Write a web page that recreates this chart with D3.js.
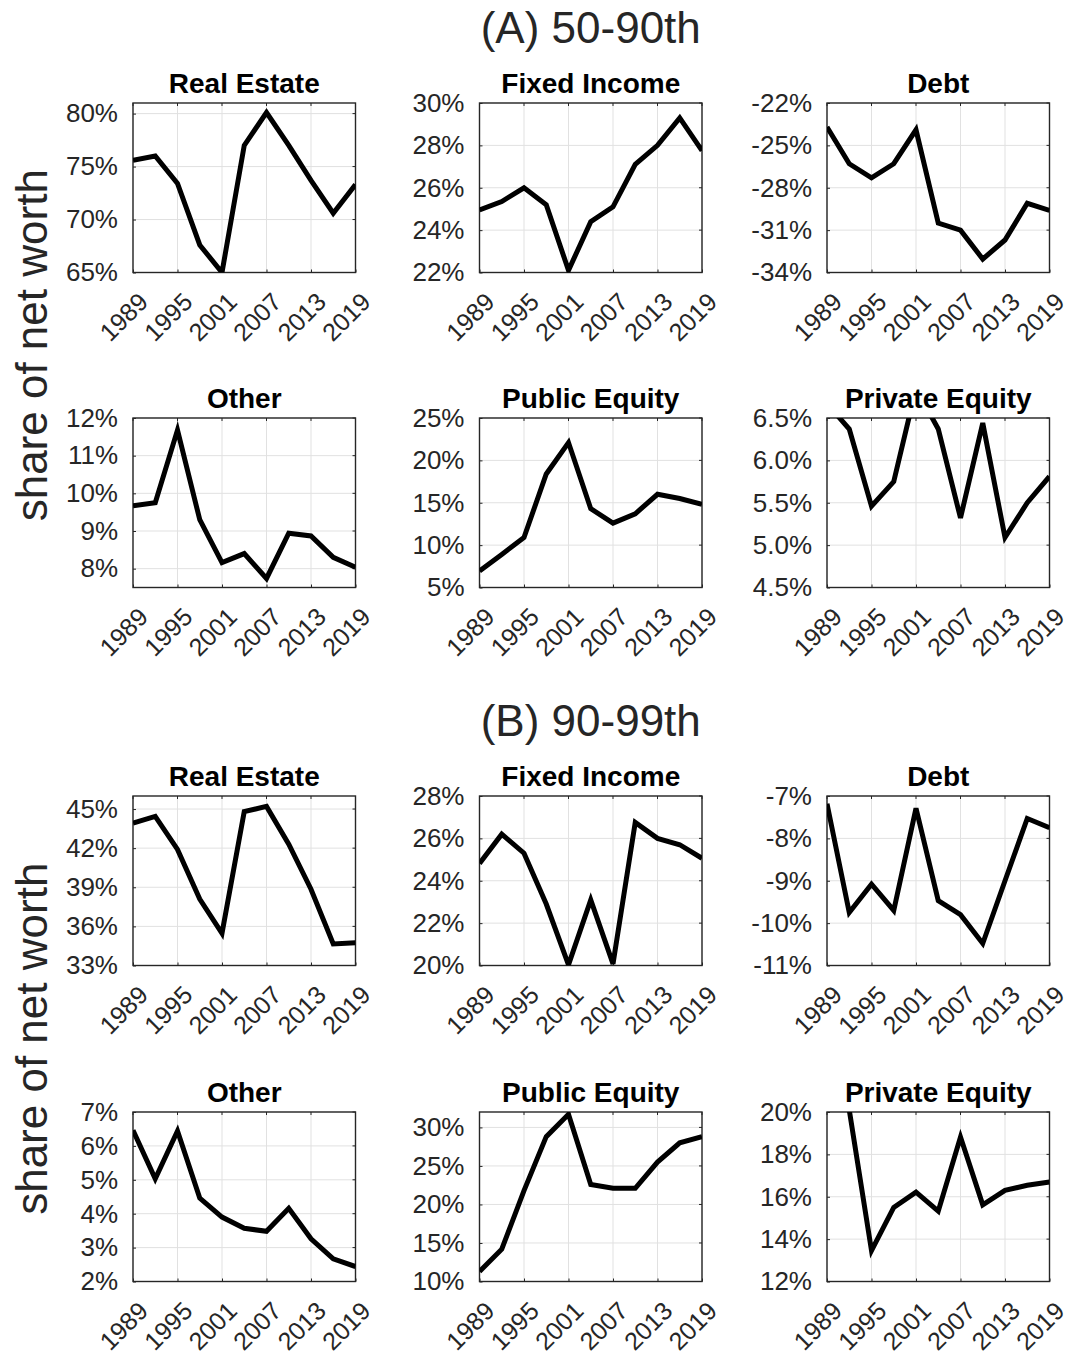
<!DOCTYPE html>
<html>
<head>
<meta charset="utf-8">
<script src="https://cdn.jsdelivr.net/npm/d3@7"></script>
<style>
  body { margin: 0; background: #fff; }
  text { font-family: Arial, "Liberation Sans", Helvetica, sans-serif; }
</style>
</head>
<body>
<div class="figure"></div>
<script>
(function() {

    /* survey years and tick years */
    var years = [1989, 1992, 1995, 1998, 2001, 2004, 2007, 2010, 2013, 2016, 2019];
    var xTicks = [1989, 1995, 2001, 2007, 2013, 2019];

    var groupTitles = ["(A) 50-90th", "(B) 90-99th"];
    var assetNames = ["Real Estate", "Fixed Income", "Debt", "Other", "Public Equity", "Private Equity"];
    var yLabel = "share of net worth";

    /* (A) 50-90th percentile, share of net worth in % */
    var realEstateA = [75.6, 76.0, 73.4, 67.6, 65.0, 77.0, 80.1, 77.0, 73.7, 70.6, 73.3];
    var fixedIncomeA = [24.95, 25.35, 26.0, 25.2, 22.1, 24.4, 25.1, 27.1, 28.0, 29.3, 27.75];
    var debtA = [-23.7, -26.3, -27.3, -26.3, -23.9, -30.5, -31.0, -33.05, -31.7, -29.1, -29.6];
    var otherA = [9.67, 9.75, 11.68, 9.3, 8.16, 8.4, 7.74, 8.94, 8.87, 8.3, 8.04];
    var publicEquityA = [6.96, 8.9, 10.9, 18.4, 22.1, 14.3, 12.6, 13.7, 16.0, 15.5, 14.8];
    var privateEquityA = [6.67, 6.37, 5.46, 5.75, 6.85, 6.37, 5.32, 6.44, 5.09, 5.5, 5.81];

    /* (B) 90-99th percentile */
    var realEstateB = [43.93, 44.44, 41.9, 38.1, 35.47, 44.8, 45.2, 42.3, 38.85, 34.65, 34.75];
    var fixedIncomeB = [24.82, 26.2, 25.3, 22.9, 20.03, 23.1, 20.08, 26.75, 26.0, 25.7, 25.06];
    var debtB = [-7.18, -9.75, -9.08, -9.7, -7.29, -9.47, -9.8, -10.48, -9.0, -7.53, -7.75];
    var otherB = [6.46, 5.03, 6.44, 4.46, 3.9, 3.57, 3.48, 4.16, 3.26, 2.67, 2.44];
    var publicEquityB = [11.3, 14.2, 21.8, 28.8, 31.7, 22.6, 22.1, 22.1, 25.5, 28.0, 28.8];
    var privateEquityB = [23.0, 20.1, 13.46, 15.5, 16.22, 15.32, 18.82, 15.62, 16.3, 16.54, 16.7];

    /* axis limits and ticks */
    var yRangeA = [[65, 81], [22, 30], [-34, -22], [7.5, 12], [5, 25], [4.5, 6.5]];
    var yTicksA = [[65, 70, 75, 80], [22, 24, 26, 28, 30], [-34, -31, -28, -25, -22],
        [8, 9, 10, 11, 12], [5, 10, 15, 20, 25], [4.5, 5, 5.5, 6, 6.5]];
    var yRangeB = [[33, 46], [20, 28], [-11, -7], [2, 7], [10, 32], [12, 20]];
    var yTicksB = [[33, 36, 39, 42, 45], [20, 22, 24, 26, 28], [-11, -10, -9, -8, -7],
        [2, 3, 4, 5, 6, 7], [10, 15, 20, 25, 30], [12, 14, 16, 18, 20]];

    var groups = [
        { title: groupTitles[0], series: [realEstateA, fixedIncomeA, debtA, otherA, publicEquityA, privateEquityA], ranges: yRangeA, ticks: yTicksA },
        { title: groupTitles[1], series: [realEstateB, fixedIncomeB, debtB, otherB, publicEquityB, privateEquityB], ranges: yRangeB, ticks: yTicksB }
    ];

    var W = 1076, H = 1358;
    var colLeft = [133, 479.5, 827];
    var rowTop = [103, 418, 796, 1112];
    var panelW = 222.5, panelH = 169.5;
    var axisColor = "#262626";

    // plain hyphen for negatives, like the original figure
    var locale = d3.formatLocale({ decimal: ".", thousands: ",", grouping: [3], currency: ["$", ""], minus: "-" });

    var svg = d3.select(".figure").append("svg")
        .attr("width", W)
        .attr("height", H);

    var x = d3.scaleLinear()
        .domain([years[0], years[years.length - 1]])
        .range([0, panelW]);

    groups.forEach(function(grp, gi) {
        var top0 = rowTop[gi * 2];
        var bottom1 = rowTop[gi * 2 + 1] + panelH;

        // group title over the middle column
        svg.append("text")
            .attr("x", colLeft[1] + panelW / 2)
            .attr("y", top0 - 60)
            .attr("text-anchor", "middle")
            .style("font-size", "44px")
            .attr("fill", axisColor)
            .text(grp.title);

        // shared y label
        svg.append("text")
            .attr("transform", "translate(47," + ((top0 + bottom1) / 2) + ") rotate(-90)")
            .attr("text-anchor", "middle")
            .style("font-size", "44px")
            .attr("fill", axisColor)
            .text(yLabel);

        grp.series.forEach(function(vals, i) {
            var col = i % 3, row = Math.floor(i / 3);
            var left = colLeft[col], top = rowTop[gi * 2 + row];
            var ticks = grp.ticks[i];

            var y = d3.scaleLinear()
                .domain(grp.ranges[i])
                .range([panelH, 0]);

            var fmt = ticks.some(function(t) { return t % 1 !== 0; }) ? locale.format(".1f") : locale.format("d");

            var g = svg.append("g")
                .attr("transform", "translate(" + left + "," + top + ")");

            var clipId = "clip-" + gi + "-" + i;
            g.append("clipPath").attr("id", clipId)
                .append("rect")
                .attr("width", panelW)
                .attr("height", panelH);

            // grid
            g.append("g").attr("class", "grid")
                .selectAll("line.gx")
                .data(xTicks)
                .enter().append("line")
                .attr("x1", function(d) { return x(d); })
                .attr("x2", function(d) { return x(d); })
                .attr("y1", 0)
                .attr("y2", panelH)
                .attr("stroke", "#e1e1e1")
                .attr("stroke-width", 1);

            g.select(".grid")
                .selectAll("line.gy")
                .data(ticks)
                .enter().append("line")
                .attr("x1", 0)
                .attr("x2", panelW)
                .attr("y1", function(d) { return y(d); })
                .attr("y2", function(d) { return y(d); })
                .attr("stroke", "#e1e1e1")
                .attr("stroke-width", 1);

            // axes with inward ticks
            var yAxis = d3.axisLeft(y)
                .tickValues(ticks)
                .tickSizeInner(-3)
                .tickSizeOuter(0)
                .tickPadding(15)
                .tickFormat(function(d) { return fmt(d) + "%"; });

            var yG = g.append("g").call(yAxis);
            yG.select(".domain").remove();
            yG.selectAll("line").attr("stroke", axisColor);
            yG.selectAll("text")
                .attr("fill", axisColor)
                .style("font-size", "26px")
                .style("font-family", "Arial, 'Liberation Sans', sans-serif");

            var xAxis = d3.axisBottom(x)
                .tickValues(xTicks)
                .tickSizeInner(-3)
                .tickSizeOuter(0)
                .tickFormat(d3.format("d"));

            var xG = g.append("g")
                .attr("transform", "translate(0," + panelH + ")")
                .call(xAxis);
            xG.select(".domain").remove();
            xG.selectAll("line").attr("stroke", axisColor);
            xG.selectAll("text")
                .attr("fill", axisColor)
                .style("font-size", "25px")
                .style("font-family", "Arial, 'Liberation Sans', sans-serif")
                .attr("text-anchor", "end")
                .attr("x", 0)
                .attr("y", 0)
                .attr("dy", 0)
                .attr("transform", "translate(16,31) rotate(-45)");

            // top and right inward ticks
            g.selectAll(".ttick")
                .data(xTicks)
                .enter().append("line")
                .attr("x1", function(d) { return x(d); })
                .attr("x2", function(d) { return x(d); })
                .attr("y1", 0)
                .attr("y2", 3)
                .attr("stroke", axisColor);
            g.selectAll(".rtick")
                .data(ticks)
                .enter().append("line")
                .attr("x1", panelW)
                .attr("x2", panelW - 3)
                .attr("y1", function(d) { return y(d); })
                .attr("y2", function(d) { return y(d); })
                .attr("stroke", axisColor);

            // box
            g.append("rect")
                .attr("width", panelW)
                .attr("height", panelH)
                .attr("fill", "none")
                .attr("stroke", axisColor)
                .attr("stroke-width", 1.4);

            // series line
            var line = d3.line()
                .x(function(d, j) { return x(years[j]); })
                .y(function(d) { return y(d); });

            g.append("path")
                .datum(vals)
                .attr("clip-path", "url(#" + clipId + ")")
                .attr("d", line)
                .attr("fill", "none")
                .attr("stroke", "#000")
                .attr("stroke-width", 5)
                .attr("stroke-linejoin", "miter")
                .attr("stroke-linecap", "butt");

            // panel title
            g.append("text")
                .attr("x", panelW / 2)
                .attr("y", -10)
                .attr("text-anchor", "middle")
                .style("font-size", "28px")
                .style("font-weight", "bold")
                .attr("fill", "#000")
                .text(assetNames[i]);
        });
    });

})();
</script>
</body>
</html>
